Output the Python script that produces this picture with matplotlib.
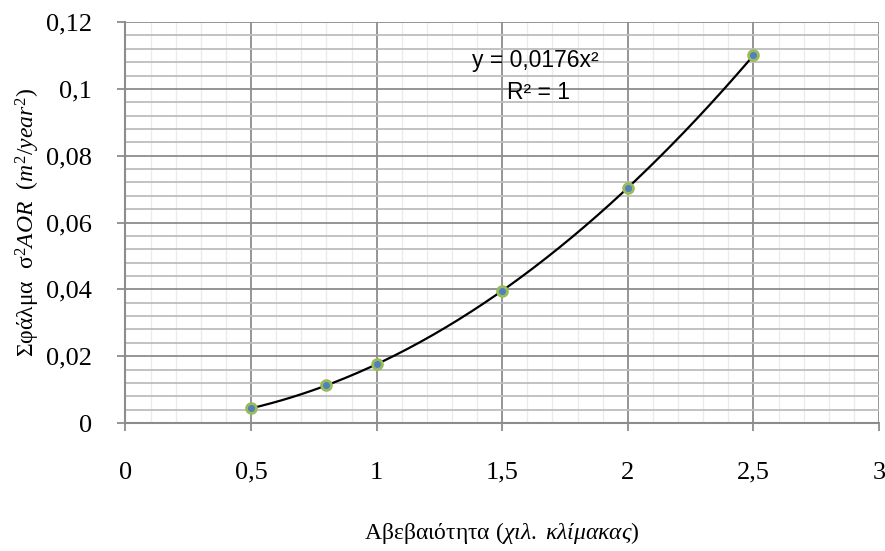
#!/usr/bin/env python3
"""Error vs uncertainty scatter with quadratic trendline"""
import numpy as np
import matplotlib
matplotlib.use('Agg')
import matplotlib.pyplot as plt
from matplotlib.ticker import MultipleLocator, FuncFormatter

# data
uncertainty = [0.5, 0.8, 1.0, 1.5, 2.0, 2.5]
error_var   = [0.0044, 0.0113, 0.0176, 0.0396, 0.0704, 0.110]

plt.rcParams['font.family'] = ['Liberation Serif', 'DejaVu Serif']
plt.rcParams['mathtext.fontset'] = 'custom'
plt.rcParams['mathtext.rm'] = 'Liberation Serif'
plt.rcParams['mathtext.it'] = 'Liberation Serif:italic'

MAJ = '#8c8c8c'; MIN_Y = '#bdbdbd'; MIN_X = '#ebebeb'

fig = plt.figure(figsize=(8.85, 5.51), dpi=100)
ax = fig.add_axes([0.1418, 0.2323, 0.8514, 0.7277])

# trendline y = a*x^2 (least squares through origin)
x = np.array(uncertainty); y = np.array(error_var)
a = np.sum(y * x**2) / np.sum(x**4)
xl = np.linspace(x.min(), x.max(), 200)
ax.plot(xl, a * xl**2, color='black', lw=1.6, zorder=3)
ax.scatter(x, y, s=50, color='#4f81bd', edgecolors='#9bbb59', linewidths=2.0, zorder=4)

ax.set_xlim(0, 3); ax.set_ylim(0, 0.12)
ax.xaxis.set_major_locator(MultipleLocator(0.5)); ax.xaxis.set_minor_locator(MultipleLocator(0.1))
ax.yaxis.set_major_locator(MultipleLocator(0.02)); ax.yaxis.set_minor_locator(MultipleLocator(0.004))
fmt = FuncFormatter(lambda v, p: ('%g' % round(v, 4)).replace('.', ','))
ax.xaxis.set_major_formatter(fmt); ax.yaxis.set_major_formatter(fmt)

ax.grid(which='major', axis='both', color=MAJ, lw=1.3, zorder=1)
ax.grid(which='minor', axis='y', color=MIN_Y, lw=1.3, zorder=0)
ax.grid(which='minor', axis='x', color=MIN_X, lw=1.0, zorder=0)
ax.set_axisbelow(True)

for s in ['top', 'right']:
    ax.spines[s].set_visible(False)
for s in ['left', 'bottom']:
    ax.spines[s].set_color(MAJ); ax.spines[s].set_linewidth(1.5)
ax.tick_params(which='major', direction='out', length=6, width=1.3, color=MAJ, labelsize=19)
ax.tick_params(which='minor', length=0)
ax.tick_params(axis='y', pad=18)
ax.tick_params(axis='x', pad=22)

ax.set_ylabel(r'Σφάλμα  σ$^2$$\mathit{AOR}$  $\mathit{(m^2/year^2)}$', fontsize=17, labelpad=3)
ax.set_xlabel(r'Αβεβαιότητα $\mathit{(χιλ.\ κλίμακας)}$', fontsize=17, labelpad=26)

ax.text(0.46, 0.905, 'y = 0,0176x²', transform=ax.transAxes, fontsize=16.5,
        family='Liberation Sans', ha='left', va='center')
ax.text(0.506, 0.825, 'R² = 1', transform=ax.transAxes, fontsize=16.5,
        family='Liberation Sans', ha='left', va='center')

plt.savefig('out.png', dpi=100)
